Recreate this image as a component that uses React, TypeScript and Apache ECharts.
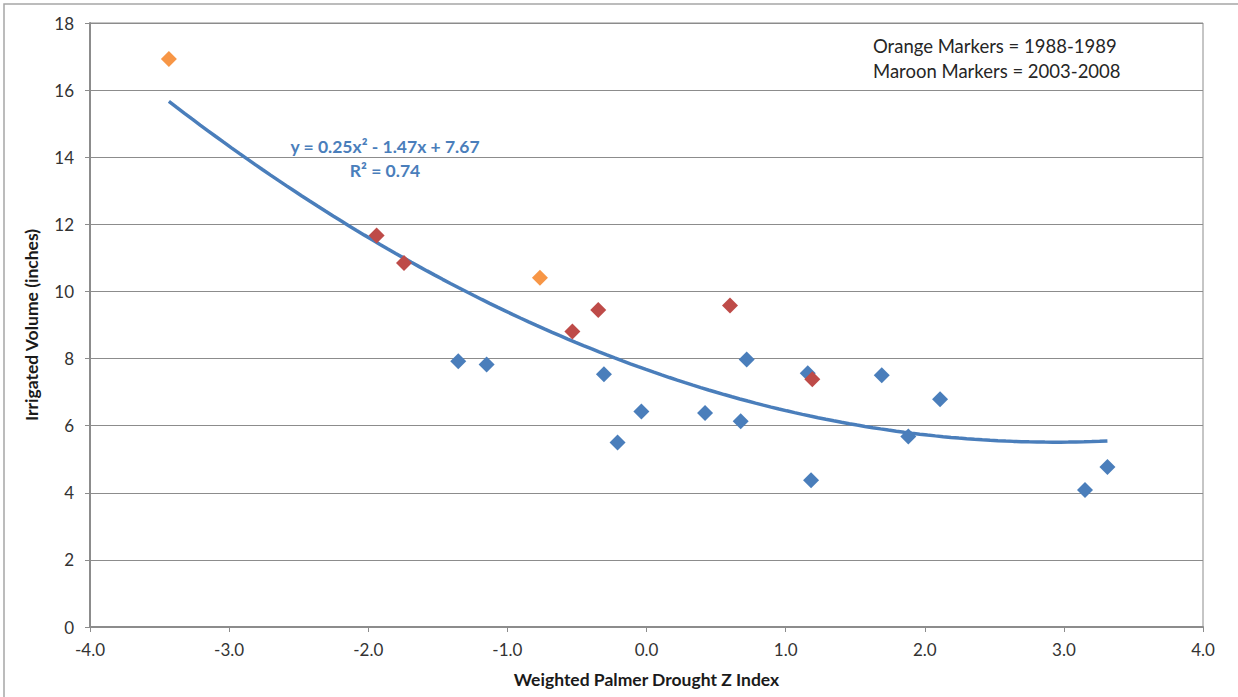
import React, { useEffect, useRef } from "react";
import * as echarts from "echarts";

// Weighted Palmer Drought Z Index (x) vs Irrigated Volume in inches (y)
const blueX = [-1.353, -1.149, -0.306, -0.208, -0.037, 0.421, 0.677, 0.72, 1.159, 1.183, 1.691, 1.882, 2.11, 3.152, 3.313];
const blueY = [7.92, 7.82, 7.53, 5.5, 6.42, 6.38, 6.13, 7.97, 7.56, 4.37, 7.5, 5.68, 6.79, 4.08, 4.77];

const maroonX = [-1.94, -1.743, -0.533, -0.347, 0.6, 1.192];
const maroonY = [11.67, 10.85, 8.81, 9.45, 9.58, 7.38];

const orangeX = [-3.433, -0.766];
const orangeY = [16.93, 10.41];

// Polynomial trendline coefficients shown on chart: y = a x^2 + b x + c
const trendCoef = [0.25, -1.47, 7.67];
const trendRange = [-3.433, 3.313];

const xTicks = { min: -4, max: 4, interval: 1 };
const yTicks = { min: 0, max: 18, interval: 2 };

const equationText = "y = 0.25x² - 1.47x + 7.67";
const r2Text = "R² = 0.74";
const noteLines = ["Orange Markers = 1988-1989", "Maroon Markers = 2003-2008"];

const FONT = "Lato, 'Open Sans', sans-serif";

export default function App() {
  const ref = useRef<HTMLDivElement>(null);

  useEffect(() => {
    document.body.style.margin = "0";
    if (!ref.current) return;
    const chart = echarts.init(ref.current, undefined, { renderer: "svg" });

    const pair = (xs: number[], ys: number[]) => xs.map((x, i) => [x, ys[i]]);
    const trend: number[][] = [];
    const steps = 120;
    for (let i = 0; i <= steps; i++) {
      const x = trendRange[0] + ((trendRange[1] - trendRange[0]) * i) / steps;
      trend.push([x, trendCoef[0] * x * x + trendCoef[1] * x + trendCoef[2]]);
    }

    const marker = (color: string) => ({
      type: "scatter",
      symbol: "diamond",
      symbolSize: [16, 16],
      itemStyle: { color, opacity: 1 },
      z: 3,
    });

    chart.setOption({
      animation: false,
      backgroundColor: "#ffffff",
      grid: {
        left: 90,
        top: 23,
        width: 1113,
        height: 604,
        show: true,
        borderColor: "#8c8c8c",
        borderWidth: 1,
        backgroundColor: "transparent",
      },
      xAxis: {
        type: "value",
        min: xTicks.min,
        max: xTicks.max,
        interval: xTicks.interval,
        name: "Weighted Palmer Drought Z Index",
        nameLocation: "middle",
        nameGap: 43,
        nameTextStyle: { fontFamily: FONT, fontWeight: "bold", fontSize: 17.5, color: "#1a1a1a" },
        axisLine: { onZero: false, lineStyle: { color: "#8c8c8c", width: 2 } },
        axisTick: { show: true, inside: false, length: 5, lineStyle: { color: "#8c8c8c" } },
        axisLabel: {
          margin: 14,
          fontFamily: FONT,
          fontSize: 17,
          color: "#333333",
          formatter: (v: number) => v.toFixed(1),
        },
        splitLine: { show: false },
      },
      yAxis: {
        type: "value",
        min: yTicks.min,
        max: yTicks.max,
        interval: yTicks.interval,
        name: "Irrigated Volume (inches)",
        nameLocation: "middle",
        nameGap: 50,
        nameTextStyle: { fontFamily: FONT, fontWeight: "bold", fontSize: 17.5, color: "#1a1a1a" },
        axisLine: { onZero: false, lineStyle: { color: "#8c8c8c", width: 2 } },
        axisTick: { show: true, inside: false, length: 5, lineStyle: { color: "#8c8c8c" } },
        axisLabel: { margin: 16, fontFamily: FONT, fontSize: 17, color: "#333333" },
        splitLine: { show: true, lineStyle: { color: "#8c8c8c", width: 1 } },
      },
      series: [
        {
          type: "line",
          data: trend,
          showSymbol: false,
          smooth: false,
          lineStyle: { color: "#4a7ebb", width: 3.5 },
          z: 2,
        },
        { ...marker("#4a7ebb"), data: pair(blueX, blueY) },
        { ...marker("#be4b48"), data: pair(maroonX, maroonY) },
        { ...marker("#f79646"), data: pair(orangeX, orangeY) },
      ],
      graphic: [
        {
          type: "rect",
          shape: { x: 4, y: 4, width: 1240, height: 700 },
          style: { fill: "none", stroke: "#a6a6a6", lineWidth: 1.5 },
          silent: true,
          z: -10,
        },
        {
          type: "text",
          x: 385,
          y: 146,
          style: {
            text: equationText,
            fontFamily: FONT,
            fontWeight: "bold",
            fontSize: 17.5,
            fill: "#4a7ebb",
            align: "center",
            verticalAlign: "middle",
          },
          z: 10,
        },
        {
          type: "text",
          x: 385,
          y: 170,
          style: {
            text: r2Text,
            fontFamily: FONT,
            fontWeight: "bold",
            fontSize: 17.5,
            fill: "#4a7ebb",
            align: "center",
            verticalAlign: "middle",
          },
          z: 10,
        },
        ...noteLines.map((t, i) => ({
          type: "text",
          x: 873,
          y: 46 + i * 25,
          style: {
            text: t,
            fontFamily: FONT,
            fontSize: 18.5,
            fill: "#262626",
            align: "left",
            verticalAlign: "middle",
          },
          z: 10,
        })),
      ],
    });

    return () => chart.dispose();
  }, []);

  return <div ref={ref} style={{ width: 1238, height: 697 }} />;
}
